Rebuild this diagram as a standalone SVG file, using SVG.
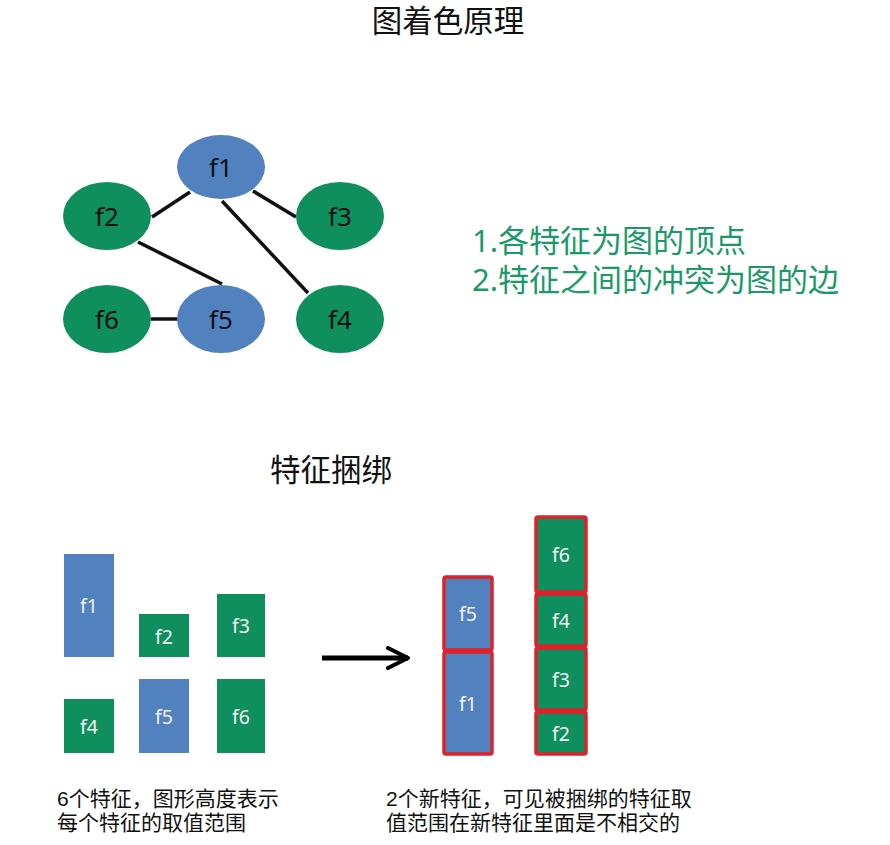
<svg xmlns="http://www.w3.org/2000/svg" width="890" height="845" viewBox="0 0 890 845">
<style>
text{font-family:"Noto Sans","Noto Sans CJK SC",sans-serif}
.title{font-size:30.5px;fill:#111;text-anchor:middle}
.ell-blue{fill:#5281c0}
.ell-green{fill:#0f8f5d}
.elabel{font-size:26px;fill:#111;text-anchor:middle;dominant-baseline:central}
.edge{stroke:#111;stroke-width:3.5;fill:none}
.note{font-size:31px;fill:#1a9a68}
.rb{fill:#5281c0}
.rg{fill:#0f8f5d}
.rl{font-size:19.5px;fill:#f2f2f2;text-anchor:middle;dominant-baseline:central}
.stk{stroke:#e0202a;stroke-width:3.5}
.cap{font-family:"Liberation Sans","Noto Sans CJK SC",sans-serif;font-size:21px;fill:#111}
</style>
<defs>
<marker id="chev" viewBox="0 0 10 10" refX="9" refY="5" markerWidth="5" markerHeight="5" orient="auto" markerUnits="strokeWidth">
<path d="M1,1 L9,5 L1,9" fill="none" stroke="#000" stroke-width="1.6" stroke-linecap="round" stroke-linejoin="round"/>
</marker>
</defs>
<rect width="890" height="845" fill="#fff"/>
<text class="title" x="448" y="32">图着色原理</text>

<g id="edges">
<line class="edge" x1="190" y1="192" x2="152" y2="217"/>
<line class="edge" x1="253" y1="191" x2="296" y2="217"/>
<line class="edge" x1="222" y1="201" x2="308" y2="293"/>
<line class="edge" x1="138" y1="242" x2="222" y2="284"/>
<line class="edge" x1="151" y1="319" x2="179" y2="319"/>
</g>
<g id="g-f1"><ellipse class="ell-blue" cx="221" cy="167" rx="44" ry="32"/><text class="elabel" x="221" y="167">f1</text></g>
<g id="g-f2"><ellipse class="ell-green" cx="107" cy="216" rx="44" ry="34"/><text class="elabel" x="107" y="216">f2</text></g>
<g id="g-f3"><ellipse class="ell-green" cx="340" cy="216" rx="44" ry="34"/><text class="elabel" x="340" y="216">f3</text></g>
<g id="g-f6"><ellipse class="ell-green" cx="107" cy="319" rx="44" ry="34"/><text class="elabel" x="107" y="319">f6</text></g>
<g id="g-f5"><ellipse class="ell-blue" cx="221" cy="319" rx="44" ry="34"/><text class="elabel" x="221" y="319">f5</text></g>
<g id="g-f4"><ellipse class="ell-green" cx="340" cy="319" rx="44" ry="34"/><text class="elabel" x="340" y="319">f4</text></g>

<g id="notes">
<text class="note" x="472" y="252">1.各特征为图的顶点</text>
<text class="note" x="472" y="291">2.特征之间的冲突为图的边</text>
</g>

<text class="title" x="331" y="481">特征捆绑</text>

<g id="r-f1"><rect class="rb" x="64" y="554" width="50" height="103"/><text class="rl" x="89" y="605">f1</text></g>
<g id="r-f2"><rect class="rg" x="139" y="614" width="50" height="43"/><text class="rl" x="164" y="636">f2</text></g>
<g id="r-f3"><rect class="rg" x="217" y="594" width="48" height="63"/><text class="rl" x="241" y="625">f3</text></g>
<g id="r-f4"><rect class="rg" x="64" y="699" width="50" height="54"/><text class="rl" x="89" y="726">f4</text></g>
<g id="r-f5"><rect class="rb" x="139" y="679" width="50" height="74"/><text class="rl" x="164" y="716">f5</text></g>
<g id="r-f6"><rect class="rg" x="217" y="679" width="48" height="74"/><text class="rl" x="241" y="716">f6</text></g>

<g id="arrow">
<line x1="322" y1="658" x2="408" y2="658" stroke="#000" stroke-width="5" marker-end="url(#chev)"/>
</g>

<g id="stack1">
<rect class="rb stk" x="444" y="577" width="48" height="73" rx="2"/><text class="rl" x="468" y="613">f5</text>
<rect class="rb stk" x="444" y="652" width="48" height="102" rx="2"/><text class="rl" x="468" y="703">f1</text>
</g>
<g id="stack2">
<rect class="rg stk" x="536" y="517" width="50" height="75" rx="2"/><text class="rl" x="561" y="554">f6</text>
<rect class="rg stk" x="536" y="594" width="50" height="52" rx="2"/><text class="rl" x="561" y="620">f4</text>
<rect class="rg stk" x="536" y="648" width="50" height="62" rx="2"/><text class="rl" x="561" y="679">f3</text>
<rect class="rg stk" x="536" y="712" width="50" height="42" rx="2"/><text class="rl" x="561" y="733">f2</text>
</g>

<g id="captions">
<text class="cap" x="57" y="806">6个特征，图形高度表示<tspan x="57" y="830">每个特征的取值范围</tspan></text>
<text class="cap" x="386" y="806">2个新特征，可见被捆绑的特征取<tspan x="386" y="830">值范围在新特征里面是不相交的</tspan></text>
</g>
</svg>
